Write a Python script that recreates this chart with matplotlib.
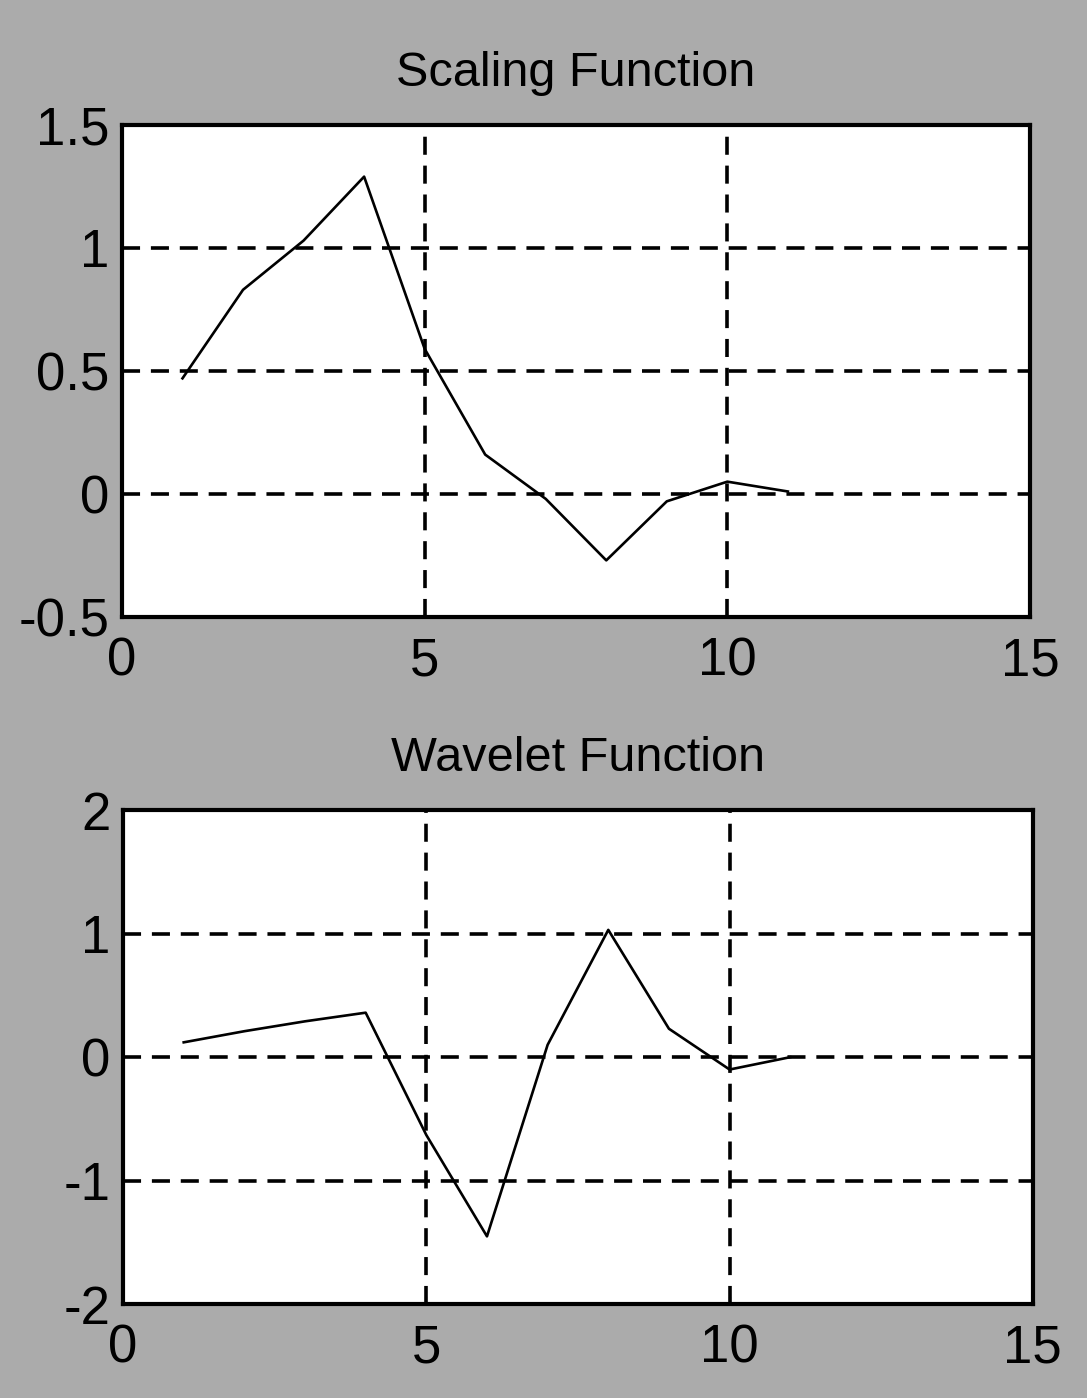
import matplotlib
matplotlib.use("Agg")
import matplotlib.pyplot as plt

# values
x = [1, 2, 3, 4, 5, 6, 7, 8, 9, 10, 11]
scaling = [0.47, 0.83, 1.03, 1.29, 0.59, 0.16, -0.02, -0.27, -0.03, 0.05, 0.01]
wavelet = [0.12, 0.21, 0.29, 0.36, -0.63, -1.45, 0.10, 1.03, 0.23, -0.10, 0.00]

xticks = [0, 5, 10, 15]
scaling_yticks = [-0.5, 0, 0.5, 1, 1.5]
wavelet_yticks = [-2, -1, 0, 1, 2]

plt.rcParams['font.family'] = ['Liberation Sans', 'DejaVu Sans']

fig = plt.figure(figsize=(10.87, 13.98), dpi=100, facecolor='#ababab')

def panel(rect, y, yticks, title):
    ax = fig.add_axes(rect)
    ax.set_facecolor('white')
    ax.plot(x, y, color='black', linewidth=1.9)
    ax.set_xlim(0, 15)
    ax.set_ylim(yticks[0], yticks[-1])
    ax.set_xticks(xticks)
    ax.set_yticks(yticks)
    ax.set_xticklabels([f'{t:g}' for t in xticks])
    ax.set_yticklabels([f'{t:g}' for t in yticks])
    ax.grid(True, color='black', linestyle=(0, (5, 3)), linewidth=2.6)
    for s in ax.spines.values():
        s.set_linewidth(3)
        s.set_color('black')
    ax.tick_params(axis='both', direction='in', length=5, width=1.5,
                   labelsize=38, colors='black')
    ax.tick_params(axis='x', pad=14)
    ax.tick_params(axis='y', pad=9)
    ax.set_title(title, fontsize=35, pad=28, color='black')
    return ax

panel([0.1122, 0.5587, 0.8354, 0.3519], scaling, scaling_yticks, 'Scaling Function')
panel([0.1132, 0.0670, 0.8370, 0.3536], wavelet, wavelet_yticks, 'Wavelet Function')

fig.savefig('out.png', dpi=100, facecolor=fig.get_facecolor())
